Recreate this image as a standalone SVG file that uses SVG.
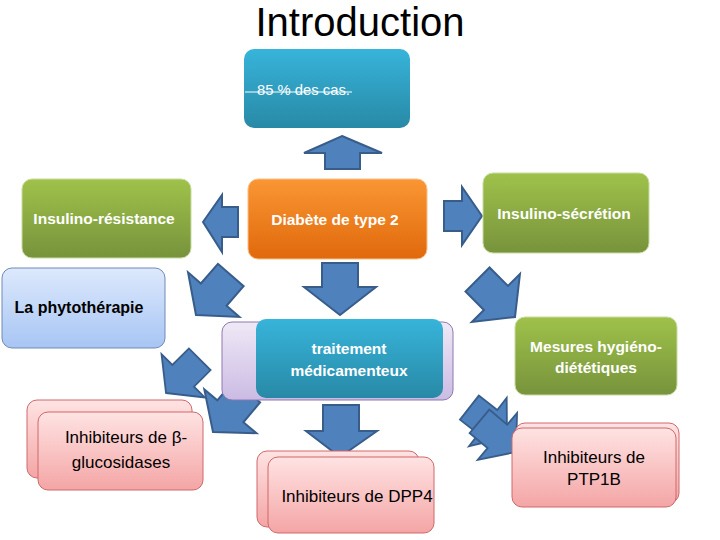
<svg xmlns="http://www.w3.org/2000/svg" width="720" height="540" viewBox="0 0 720 540">
<defs>
<linearGradient id="gTeal" x1="0" y1="0" x2="0" y2="1"><stop offset="0" stop-color="#37b4da"/><stop offset="1" stop-color="#2889a6"/></linearGradient>
<linearGradient id="gGreen" x1="0" y1="0" x2="0" y2="1"><stop offset="0" stop-color="#9fc24a"/><stop offset="1" stop-color="#77933c"/></linearGradient>
<linearGradient id="gOrange" x1="0" y1="0" x2="0" y2="1"><stop offset="0" stop-color="#fa9633"/><stop offset="1" stop-color="#e0690c"/></linearGradient>
<linearGradient id="gBlue" x1="0" y1="0" x2="0" y2="1"><stop offset="0" stop-color="#dde9fc"/><stop offset="1" stop-color="#a7c5f4"/></linearGradient>
<linearGradient id="gPurple" x1="0" y1="0" x2="0" y2="1"><stop offset="0" stop-color="#efe9f6"/><stop offset="1" stop-color="#cbbbe4"/></linearGradient>
<linearGradient id="gPink" x1="0" y1="0" x2="0" y2="1"><stop offset="0" stop-color="#ffe3e3"/><stop offset="1" stop-color="#f4a5a5"/></linearGradient>
<polygon id="diag" points="0,0 -27,-34 -27,-17 -53,-17 -53,17 -27,17 -27,34"/>
</defs>
<style>
.t{font-family:"Liberation Sans",Arial,sans-serif;text-anchor:middle}
.w{fill:#ffffff;font-weight:bold;font-size:15.5px}
.k{fill:#000000;font-size:17px}
.kb{fill:#000000;font-weight:bold;font-size:16px}
.arr{fill:#4f81bd;stroke:#385d8a;stroke-width:2;stroke-linejoin:miter}
.pink{fill:url(#gPink);stroke:#d0686a;stroke-width:1}
</style>
<rect width="720" height="540" fill="#ffffff"/>
<text x="360" y="36" class="t" font-size="40" fill="#000000">Introduction</text>

<g id="connectors">
<polygon class="arr" points="342,136 382,153 360,153 360,169 325,169 325,153 304,153"/>
<polygon class="arr" points="203,222 222,195 222,207 238,207 238,237 222,237 222,252"/>
<polygon class="arr" points="482,216 462,187 462,201 444,201 444,231 462,231 462,245"/>
<polygon class="arr" points="340,315 376,287 358,287 358,263 322,263 322,287 304,287"/>
<polygon class="arr" points="340,457 377,431 359,431 359,405 323,405 323,431 306,431"/>
<use href="#diag" class="arr" transform="translate(196,315) rotate(131)"/>
<use href="#diag" class="arr" transform="translate(166,393) rotate(135) scale(0.9)"/>
<use href="#diag" class="arr" transform="translate(213,432) rotate(130)"/>
<use href="#diag" class="arr" transform="translate(515,317) rotate(45)"/>
<use href="#diag" class="arr" transform="translate(507,437) rotate(38) scale(0.9)"/>
<use href="#diag" class="arr" transform="translate(516,452) rotate(40) scale(0.9)"/>
</g>

<g id="n-top">
<rect x="244" y="49" width="166" height="79" rx="10" fill="url(#gTeal)"/>
<text x="257" y="95" font-family="Liberation Sans,Arial,sans-serif" font-size="14.8" fill="#ffffff">85 % des cas.</text>
<line x1="245" y1="92" x2="352" y2="92" stroke="#ffffff" stroke-width="1.2"/>
</g>

<g id="n-resistance">
<rect x="22" y="179" width="169" height="79" rx="10" fill="url(#gGreen)" stroke="#c8dba0" stroke-width="1"/>
<text x="104" y="224" class="t w">Insulino-résistance</text>
</g>

<g id="n-diabete">
<rect x="248" y="179" width="179" height="80" rx="10" fill="url(#gOrange)" stroke="#fbc089" stroke-width="1"/>
<text x="335" y="225" class="t w">Diabète de type 2</text>
</g>

<g id="n-secretion">
<rect x="483" y="173" width="166" height="80" rx="10" fill="url(#gGreen)" stroke="#c8dba0" stroke-width="1"/>
<text x="564" y="219" class="t w">Insulino-sécrétion</text>
</g>

<g id="n-phyto">
<rect x="2" y="268" width="163" height="80" rx="10" fill="url(#gBlue)" stroke="#7189b8" stroke-width="1"/>
<text x="79" y="313" class="t kb">La phytothérapie</text>
</g>

<g id="n-traitement">
<rect x="222" y="322" width="231" height="78" rx="10" fill="url(#gPurple)" stroke="#8e78b0" stroke-width="1"/>
<rect x="256" y="319" width="187" height="79" rx="10" fill="url(#gTeal)"/>
<text x="349" y="354" class="t w">traitement</text>
<text x="349" y="376" class="t w">médicamenteux</text>
</g>

<g id="n-mesures">
<rect x="515" y="317" width="162" height="78" rx="10" fill="url(#gGreen)" stroke="#c8dba0" stroke-width="1"/>
<text x="596" y="352" class="t w">Mesures hygiéno-</text>
<text x="596" y="373" class="t w">diététiques</text>
</g>

<g id="n-glucosidases">
<rect x="27" y="400" width="165" height="78" rx="10" class="pink"/>
<rect x="38" y="412" width="165" height="78" rx="10" class="pink"/>
<text x="126" y="443" class="t k">Inhibiteurs de β-</text>
<text x="121" y="468" class="t k">glucosidases</text>
</g>

<g id="n-dpp4">
<rect x="257" y="451" width="162" height="76" rx="10" class="pink"/>
<rect x="268" y="457" width="166" height="76" rx="10" class="pink"/>
<text x="357" y="502" class="t k">Inhibiteurs de DPP4</text>
</g>

<g id="n-ptp1b">
<rect x="515" y="423" width="164" height="80" rx="10" class="pink"/>
<rect x="512" y="428" width="164" height="79" rx="10" class="pink"/>
<text x="594" y="463" class="t k">Inhibiteurs de</text>
<text x="594" y="485" class="t k">PTP1B</text>
</g>
</svg>
